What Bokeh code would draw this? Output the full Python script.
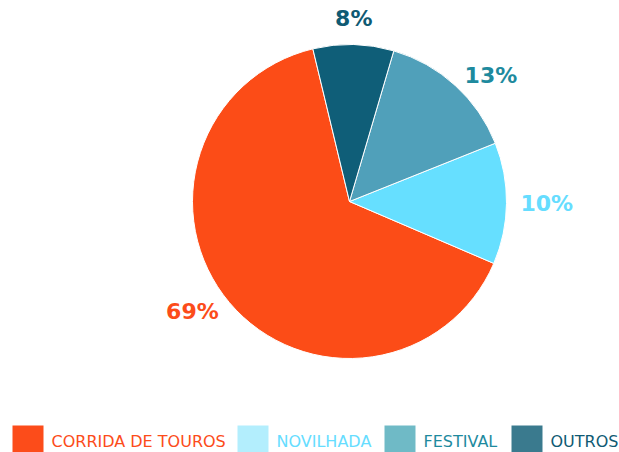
import math
from bokeh.plotting import figure
from bokeh.models import Range1d, ColumnDataSource
from bokeh.core.properties import value
from bokeh.embed import file_html
from bokeh.resources import INLINE

# ---- data ----
categories = ["CORRIDA DE TOUROS", "NOVILHADA", "FESTIVAL", "OUTROS"]
slice_shares = [64.8, 12.5, 14.4, 8.3]          # drawn slice sizes
pct_labels = ["69%", "10%", "13%", "8%"]         # printed labels
pie_colors = ["#FC4C17", "#66DFFF", "#50A0BA", "#0F5E78"]
legend_colors = ["#FC4C1A", "#B3EEFD", "#6FBAC6", "#3A7A8E"]
text_colors = ["#FC4C1A", "#66DDFF", "#1E8A9E", "#0F5A73"]

# ---- layout (px, y measured upward from bottom) ----
W, H = 619, 452
CX, CY, R = 349, 251, 157
START_DEG = 103.5
LABEL_R = 171

p = figure(width=W, height=H, output_backend="svg", toolbar_location=None,
           x_range=Range1d(0, W), y_range=Range1d(0, H),
           min_border=0, outline_line_color=None)
p.axis.visible = False
p.grid.visible = False
p.background_fill_color = "white"
p.border_fill_color = "white"

total = sum(slice_shares)
starts, ends, mids = [], [], []
a = math.radians(START_DEG)
for s in slice_shares:
    d = 2 * math.pi * s / total
    starts.append(a)
    ends.append(a + d)
    mids.append(a + d / 2)
    a += d

src = ColumnDataSource(dict(start=starts, end=ends, color=pie_colors))
p.wedge(x=CX, y=CY, radius=R, start_angle="start", end_angle="end",
        direction="anticlock", fill_color="color", line_color="white",
        line_width=1, source=src)

# percentage labels
lx, ly, al, bl = [], [], [], []
for m in mids:
    c, s = math.cos(m), math.sin(m)
    lx.append(CX + LABEL_R * c)
    ly.append(CY + LABEL_R * s)
    al.append("left" if c > 0.3 else ("right" if c < -0.3 else "center"))
    bl.append("bottom" if s > 0.9 else ("top" if s < -0.9 else "middle"))
lsrc = ColumnDataSource(dict(x=lx, y=ly, t=pct_labels, c=text_colors, a=al, b=bl))
p.text(x="x", y="y", text="t", text_color="c", text_align="a", text_baseline="b",
       text_font=value("DejaVu Sans"), text_font_style="bold",
       text_font_size="22px", source=lsrc)

# legend (manual, per-item colours)
sq_left = [12, 237, 384, 511]
sq_w = 31
sq_bottom, sq_top = 0, 27
p.quad(left=sq_left, right=[x + sq_w for x in sq_left],
       bottom=[sq_bottom] * 4, top=[sq_top] * 4,
       fill_color=legend_colors, line_color=None)
tsrc = ColumnDataSource(dict(x=[x + sq_w + 8 for x in sq_left], y=[11] * 4,
                             t=categories, c=text_colors))
p.text(x="x", y="y", text="t", text_color="c", text_align="left",
       text_baseline="middle", text_font=value("DejaVu Sans"),
       text_font_size="16px", source=tsrc)

open("out.html", "w").write(file_html(p, INLINE))
